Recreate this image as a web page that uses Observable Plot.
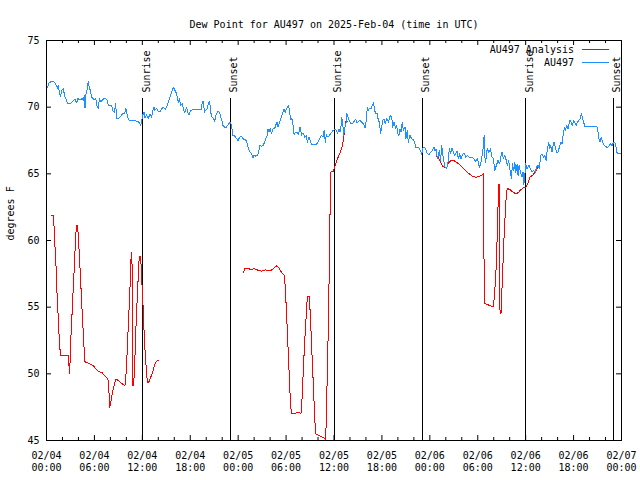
<!DOCTYPE html>
<html><head><meta charset="utf-8">
<script src="https://cdn.jsdelivr.net/npm/d3@7"></script>
<script src="https://cdn.jsdelivr.net/npm/@observablehq/plot@0.6"></script>
<style>body{margin:0;background:#fff}#chart{width:640px;height:480px}</style>
</head><body><div id="chart"></div>
<script>
const chartTitle = "Dew Point for AU497 on 2025-Feb-04 (time in UTC)";
const yLabel = "degrees F";
const startTime = "2025-02-04T00:00Z";
const endTime = "2025-02-07T00:00Z";
const yTicks = [45, 50, 55, 60, 65, 70, 75];
const legendLabels = ["AU497 Analysis", "AU497"];
const seriesColors = ["#ff0000", "#1e90ff"];
// hours after 2025-02-04 00:00 UTC
const sunriseHours = [12.03, 36.03, 60.03];
const sunsetHours = [23.0, 47.05, 70.97];

// AU497 observations: [hours, dew point °F]
const observed = [
[0,71.45],[0.15,71.5],[0.32,71.83],[0.65,71.93],[0.98,71.88],[1.19,71.68],[1.35,71.43],[1.48,71.63],[1.64,71.0],[1.77,70.8],
[1.89,71.25],[2.12,71.38],[2.25,70.88],[2.45,70.58],[2.66,70.25],[2.95,70.25],[3.24,70.43],[3.57,70.58],[3.78,70.33],[3.91,70.63],
[4.2,70.58],[4.49,70.63],[4.61,70.5],[4.74,70.88],[4.82,69.95],[4.94,71.0],[5.11,71.38],[5.23,71.93],[5.36,71.5],[5.52,71.18],
[5.65,70.75],[5.94,70.58],[6.17,70.63],[6.33,70.08],[6.5,69.88],[6.62,70.68],[6.83,70.38],[7.04,70.58],[7.2,70.63],[7.41,70.63],
[7.54,70.58],[7.74,70.18],[7.95,70.08],[8.16,70.13],[8.28,69.75],[8.49,69.63],[8.66,70.25],[8.78,69.18],[9.07,69.18],[9.32,69.33],
[9.53,69.5],[9.74,69.5],[9.82,69.63],[9.94,69.88],[10.13,69.33],[10.25,69.08],[10.46,69.0],[10.75,69.0],[11.0,69.0],[11.29,68.93],
[11.5,68.93],[11.62,68.83],[11.79,68.63],[11.91,68.88],[12.04,69.38],[12.2,69.63],[12.33,69.18],[12.54,69.43],[12.74,69.13],[12.95,69.5],
[13.16,69.25],[13.28,69.68],[13.45,70.0],[13.57,69.75],[13.78,69.93],[13.99,69.68],[14.23,69.63],[14.43,69.88],[14.64,70.0],[14.85,69.83],
[15.06,70.0],[15.26,70.38],[15.47,70.75],[15.68,71.13],[15.89,71.5],[16.09,71.25],[16.3,71.0],[16.51,70.33],[16.63,70.63],[16.8,70.13],
[17.01,70.25],[17.13,69.93],[17.26,69.58],[17.42,69.75],[17.55,70.0],[17.67,69.63],[17.84,69.43],[18.05,69.75],[18.34,69.83],[18.76,69.83],
[19.17,69.83],[19.38,69.83],[19.5,70.38],[19.63,70.43],[19.79,69.63],[20.0,69.83],[20.14,69.88],[20.3,70.38],[20.43,70.43],[20.55,69.63],
[20.72,69.25],[20.93,69.13],[21.05,68.93],[21.26,69.5],[21.47,69.68],[21.67,69.63],[21.8,69.25],[21.96,69.0],[22.1,68.63],[22.32,68.5],
[22.52,68.5],[22.73,68.68],[22.94,68.83],[23.06,68.88],[23.23,68.38],[23.35,67.88],[23.56,67.83],[23.77,67.68],[23.98,67.5],[24.18,67.75],
[24.39,67.83],[24.6,67.63],[24.81,67.58],[25.01,67.5],[25.14,67.25],[25.3,66.88],[25.51,66.63],[25.72,66.43],[25.84,66.18],[25.97,66.38],
[26.2,66.33],[26.41,66.38],[26.58,66.68],[26.7,67.13],[26.91,67.08],[27.12,67.13],[27.33,67.38],[27.45,67.63],[27.62,67.88],[27.74,68.38],
[27.86,68.13],[28.03,68.38],[28.16,68.0],[28.36,68.38],[28.57,68.38],[28.69,68.63],[28.86,68.88],[28.99,68.5],[29.11,68.75],[29.28,69.0],
[29.4,69.25],[29.61,69.63],[29.73,69.88],[29.9,69.63],[30.04,69.88],[30.17,70.0],[30.33,70.13],[30.46,69.5],[30.58,69.08],[30.75,69.13],
[30.87,68.63],[31.0,67.93],[31.16,68.13],[31.41,68.08],[31.58,67.93],[31.7,68.5],[31.83,68.43],[31.91,67.88],[32.12,68.08],[32.33,67.75],
[32.53,67.88],[32.66,67.38],[32.86,67.75],[33.07,67.38],[33.24,67.18],[33.49,67.18],[33.78,67.18],[33.99,67.38],[34.21,67.63],[34.42,67.88],
[34.63,67.75],[34.75,68.25],[34.92,67.38],[35.04,67.93],[35.25,67.75],[35.46,67.93],[35.66,68.08],[35.87,68.25],[36.08,68.33],[36.33,68.25],
[36.45,68.0],[36.62,68.38],[36.74,68.13],[36.87,68.5],[36.95,69.25],[37.07,69.0],[37.2,67.88],[37.37,68.5],[37.49,68.75],[37.61,69.5],
[37.78,69.25],[37.9,69.0],[38.1,68.75],[38.31,68.75],[38.52,68.93],[38.72,69.08],[38.89,68.83],[39.06,68.93],[39.26,69.0],[39.47,68.88],
[39.68,68.75],[39.89,68.43],[40.01,68.88],[40.09,69.38],[40.18,70.0],[40.3,69.75],[40.42,69.93],[40.63,69.88],[40.8,70.13],[40.96,70.33],
[41.05,69.88],[41.21,69.5],[41.42,69.5],[41.55,69.0],[41.67,68.88],[41.84,68.0],[41.96,68.5],[42.1,69.0],[42.27,69.13],[42.4,68.75],
[42.6,69.13],[42.81,68.88],[43.02,69.38],[43.23,69.25],[43.35,68.5],[43.52,68.88],[43.72,68.38],[43.85,68.63],[43.97,68.0],[44.14,67.88],
[44.26,68.38],[44.39,68.13],[44.55,68.88],[44.68,68.25],[44.89,68.5],[45.01,67.63],[45.18,68.25],[45.3,67.38],[45.51,67.88],[45.72,67.63],
[45.92,67.58],[46.07,67.38],[46.24,67.0],[46.49,67.0],[46.66,66.93],[46.82,66.75],[46.99,66.43],[47.11,66.93],[47.32,67.0],[47.49,66.83],
[47.7,66.5],[47.9,66.43],[48.11,66.63],[48.32,66.75],[48.53,67.0],[48.65,66.75],[48.77,66.88],[48.94,66.13],[49.07,66.38],[49.19,66.75],
[49.36,66.0],[49.48,67.13],[49.61,66.5],[49.77,65.88],[49.9,65.5],[50.12,65.43],[50.25,65.75],[50.45,66.88],[50.62,66.5],[50.75,66.93],
[50.95,66.68],[51.08,66.38],[51.24,66.5],[51.41,66.68],[51.58,66.13],[51.74,66.5],[51.91,66.13],[52.07,66.38],[52.28,66.58],[52.49,66.25],
[52.7,66.38],[52.9,66.25],[53.11,66.25],[53.32,66.25],[53.53,66.13],[53.73,65.93],[53.94,66.13],[54.07,65.88],[54.19,65.5],[54.38,65.75],
[54.55,66.38],[54.67,66.88],[54.8,67.88],[54.88,66.25],[55.0,65.88],[55.17,66.88],[55.38,66.63],[55.59,66.88],[55.79,66.25],[55.96,66.13],
[56.13,65.25],[56.33,65.63],[56.54,66.0],[56.75,65.75],[56.87,66.25],[57.04,66.63],[57.2,66.13],[57.37,66.38],[57.58,66.0],[57.7,65.63],
[57.87,66.0],[57.99,65.5],[58.22,64.68],[58.34,65.75],[58.51,65.25],[58.64,65.88],[58.76,65.13],[58.93,65.75],[59.05,64.88],[59.17,65.63],
[59.34,65.13],[59.55,64.75],[59.67,65.13],[59.76,64.18],[59.88,64.75],[60.0,65.75],[60.13,65.38],[60.3,65.5],[60.42,65.63],[60.59,65.38],
[60.79,65.13],[61.0,65.25],[61.21,65.13],[61.37,65.5],[61.54,65.68],[61.71,65.38],[61.87,66.38],[62.06,66.5],[62.22,66.25],[62.39,66.38],
[62.56,66.0],[62.72,66.88],[62.89,67.38],[63.01,66.88],[63.14,67.13],[63.3,66.63],[63.43,67.13],[63.55,67.38],[63.72,67.0],[63.88,66.63],
[64.05,66.63],[64.22,67.0],[64.38,67.38],[64.55,67.25],[64.71,68.0],[64.88,68.5],[65.0,68.25],[65.13,68.63],[65.3,68.38],[65.42,68.75],
[65.54,69.0],[65.71,68.88],[65.83,68.63],[66.02,69.0],[66.16,68.83],[66.32,68.63],[66.49,68.88],[66.65,69.0],[66.82,69.13],[66.99,69.5],
[67.11,69.25],[67.23,68.93],[67.4,68.58],[67.82,68.58],[68.23,68.58],[68.65,68.58],[68.94,68.5],[69.06,68.13],[69.18,67.63],[69.31,67.38],
[69.48,67.75],[69.64,67.38],[69.81,67.18],[69.97,67.08],[70.14,67.0],[70.31,67.0],[70.48,67.13],[70.65,67.25],[70.81,67.13],[70.98,67.33],
[71.15,67.38],[71.27,67.18],[71.39,66.63],[71.56,66.5],[71.77,66.5],[71.89,66.5]
];

// AU497 Analysis, three separate runs: [hours, dew point °F]
const analysis1 = [
[0.57,61.9],[0.86,61.9],[0.94,61.1],[1.06,59.6],[1.19,58.1],[1.27,56.6],[1.4,55.1],[1.52,53.6],[1.64,52.1],[1.77,51.4],
[2.74,51.4],[2.87,50.05],[2.95,50.9],[3.03,52.4],[3.16,54.0],[3.28,55.6],[3.41,57.1],[3.53,58.7],[3.66,60.3],[3.74,61.1],
[3.86,61.1],[3.99,60.4],[4.11,58.9],[4.24,57.45],[4.36,55.9],[4.49,54.4],[4.61,53.0],[4.74,51.5],[4.82,50.9],[5.23,50.8],
[5.65,50.7],[5.94,50.55],[6.29,50.3],[6.62,50.15],[6.95,50.1],[7.2,49.9],[7.54,49.7],[7.74,49.5],[7.83,48.55],[7.91,47.45],
[8.08,48.0],[8.2,48.4],[8.37,48.9],[8.53,49.3],[8.7,49.6],[8.99,49.5],[9.28,49.35],[9.61,49.2],[9.82,49.1],[9.95,49.9],
[10.09,51.5],[10.21,53.2],[10.34,54.9],[10.46,56.55],[10.54,58.2],[10.63,59.1],[10.71,58.25],[10.75,49.1],[10.88,49.1],[11.0,49.95],
[11.17,53.0],[11.29,54.75],[11.42,56.4],[11.54,58.0],[11.62,58.8],[11.79,58.8],[11.91,57.25],[12.04,55.75],[12.12,54.75],[12.2,53.4],
[12.29,52.25],[12.41,51.1],[12.54,49.9],[12.66,49.35],[12.79,49.35],[12.95,49.6],[13.16,49.9],[13.37,50.3],[13.57,50.7],[13.78,50.95],
[13.99,51.0]
];
const analysis2 = [
[24.65,57.6],[24.86,57.9],[25.27,57.9],[25.69,57.8],[25.98,57.9],[26.33,57.8],[26.66,57.75],[26.95,57.7],[27.37,57.8],[27.78,57.75],
[27.99,57.7],[28.41,57.9],[28.82,58.1],[29.15,57.9],[29.44,57.6],[29.77,57.4],[29.9,56.5],[30.04,54.75],[30.17,53.05],[30.29,51.3],
[30.42,49.6],[30.54,47.9],[30.67,47.0],[31.12,47.05],[31.54,47.1],[31.87,47.05],[31.95,47.5],[32.08,49.25],[32.2,50.75],[32.33,52.5],
[32.45,53.6],[32.58,55.0],[32.66,55.8],[32.87,55.8],[32.99,54.9],[33.12,53.25],[33.24,51.5],[33.36,49.9],[33.49,48.1],[33.61,46.4],
[33.74,45.5],[34.05,45.4],[34.34,45.3],[34.67,45.2],[34.96,45.1],[35.04,46.75],[35.17,50.25],[35.29,53.5],[35.38,56.9],[35.46,60.25],
[35.54,63.6],[35.63,65.2],[35.92,65.2],[36.08,65.5],[36.25,65.8],[36.41,66.1],[36.66,66.45],[36.87,66.75],[37.04,67.1],[37.2,67.6],
[37.33,68.3],[37.45,68.9],[37.73,68.9]
];
const analysis3 = [
[48.78,66.3],[49.07,66.25],[49.28,65.95],[49.57,65.6],[49.77,65.5],[50.13,65.5],[50.33,65.8],[50.62,66.0],[50.96,66.0],[51.29,65.9],
[51.7,65.7],[52.12,65.45],[52.53,65.2],[52.95,65.0],[53.36,64.8],[53.78,64.75],[54.22,64.8],[54.51,64.9],[54.72,65.0],[54.76,60.1],
[54.84,55.3],[55.22,55.2],[55.55,55.1],[55.97,55.05],[56.09,55.9],[56.26,57.4],[56.38,59.25],[56.5,61.75],[56.63,64.2],[56.71,64.2],
[56.79,54.55],[56.92,54.55],[57.04,56.5],[57.16,58.25],[57.29,60.25],[57.45,62.1],[57.58,63.5],[57.71,63.9],[58.06,63.8],[58.48,63.6],
[58.81,63.5],[59.1,63.6],[59.38,63.8],[59.72,63.95],[60.05,64.0],[60.26,64.25],[60.55,64.75],[60.88,64.9],[61.17,65.1],[61.46,65.4],
[61.71,65.6]
];

const base = Date.parse(startTime);
const toDate = h => new Date(base + h * 3600000);
const start = new Date(startTime), end = new Date(endTime);
const obsData = observed.map(([h, v]) => ({t: toDate(h), v}));
const anaData = [analysis1, analysis2, analysis3].flatMap((seg, i) => seg.map(([h, v]) => ({t: toDate(h), v, seg: i})));
const events = [
  ...sunriseHours.map(h => ({t: toDate(h), label: "Sunrise"})),
  ...sunsetHours.map(h => ({t: toDate(h), label: "Sunset"}))
];
const majorX = d3.utcHour.every(6).range(start, new Date(+end + 1));
const minorX = d3.utcHour.every(2).range(start, end).filter(d => d.getUTCHours() % 6 !== 0);
const font = "DejaVu Sans Mono";

function legendMark(index, scales, values, dims) {
  const g = d3.create("svg:g").attr("font-family", font).attr("font-size", 10);
  const xr = dims.width - dims.marginRight;
  const top = dims.marginTop;
  legendLabels.forEach((label, i) => {
    const yy = top + 10 + i * 13;
    g.append("text").attr("x", xr - 47).attr("y", yy).attr("dy", "0.32em")
      .attr("text-anchor", "end").attr("fill", "black").text(label);
    g.append("line").attr("x1", xr - 39).attr("x2", xr - 12)
      .attr("y1", Math.floor(yy) - 0.5).attr("y2", Math.floor(yy) - 0.5)
      .attr("stroke", seriesColors[i]).attr("stroke-width", 1)
      .attr("shape-rendering", "crispEdges");
  });
  return g.node();
}

const chart = Plot.plot({
  width: 640, height: 480,
  marginLeft: 46, marginRight: 19, marginTop: 40, marginBottom: 40,
  style: {fontFamily: font, fontSize: "10px", background: "white", color: "black"},
  x: {type: "utc", domain: [start, end]},
  y: {domain: [45, 75]},
  marks: [
    Plot.axisX({ticks: majorX, tickSize: 0, tickPadding: 9, tickFormat: d3.utcFormat("%m/%d\n%H:%M"), lineHeight: 1.27, label: null}),
    Plot.axisY({ticks: yTicks, tickSize: 0, tickPadding: 7, label: null}),
    Plot.ruleX(majorX, {insetTop: 395, stroke: "black"}),
    Plot.ruleX(majorX, {insetBottom: 395, stroke: "black"}),
    Plot.ruleX(minorX, {insetTop: 397, stroke: "black"}),
    Plot.ruleX(minorX, {insetBottom: 397, stroke: "black"}),
    Plot.ruleY(yTicks, {insetRight: 570, stroke: "black"}),
    Plot.ruleY(yTicks, {insetLeft: 570, stroke: "black"}),
    Plot.ruleX(events, {x: "t", insetTop: 58, stroke: "black", shapeRendering: "crispEdges"}),
    Plot.text(events, {x: "t", text: "label", frameAnchor: "top", dy: 52, rotate: -90, textAnchor: "start", fill: "black"}),
    Plot.line(anaData, {x: "t", y: "v", z: "seg", stroke: seriesColors[0], strokeWidth: 1, shapeRendering: "crispEdges"}),
    Plot.line(obsData, {x: "t", y: "v", stroke: seriesColors[1], strokeWidth: 1, shapeRendering: "crispEdges"}),
    Plot.frame({stroke: "black", shapeRendering: "crispEdges"}),
    Plot.text([chartTitle], {frameAnchor: "top", dy: -20, fill: "black"}),
    Plot.text([yLabel], {frameAnchor: "left", dx: -36, rotate: -90, fill: "black"}),
    legendMark
  ]
});
document.getElementById("chart").appendChild(chart);
</script>
</body></html>
